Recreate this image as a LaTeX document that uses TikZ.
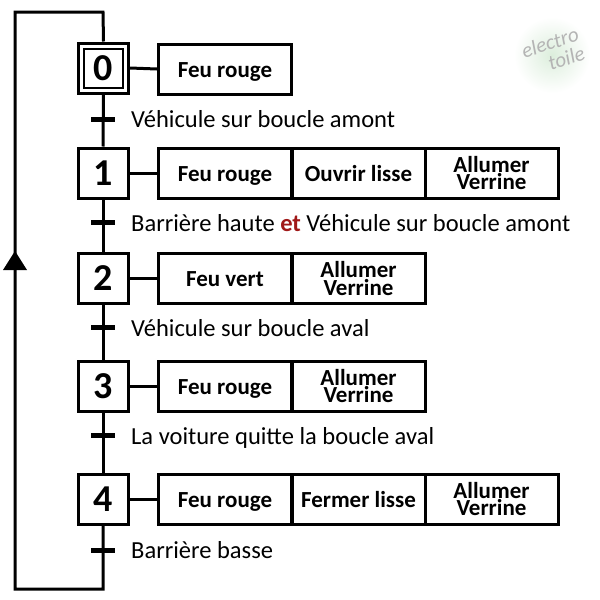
\documentclass[tikz,border=0pt]{standalone}
\usepackage{fontspec}
\setmainfont{Carlito}
\definecolor{etred}{HTML}{A01818}
\definecolor{logogray}{HTML}{B4B4B4}
\definecolor{glow}{HTML}{DCEEDC}
\begin{document}
\begin{tikzpicture}[x=1pt,y=-1pt,
  stepbox/.style={draw, line width=3pt, minimum width=50pt, minimum height=50pt, inner sep=0pt, font=\fontsize{38}{38}\selectfont\bfseries},
  actbox/.style={draw, line width=3pt, minimum width=133pt, minimum height=50pt, inner sep=0pt, align=center, font=\fontsize{23}{17.5}\selectfont\bfseries},
  oneline/.style={text height=16pt, text depth=0pt},
  link/.style={line width=3pt},
  trans/.style={line width=5pt},
  tlabel/.style={anchor=base west, inner sep=0pt, font=\fontsize{24.5}{24.5}\selectfont}]
\useasboundingbox[fill=white] (0,0) rectangle (600,600);
% logo
\shade[inner color=glow, outer color=white] (552,55) circle (38);
\node[rotate=18, text=logogray, align=right, font=\fontsize{21}{20}\selectfont\itshape, inner sep=0pt] (logo) at (553,52) {electro\\toile};
% steps
\node[stepbox, minimum width=50pt, minimum height=50pt] (s0) at (103.5,68) {};
\node[draw, line width=2pt, minimum width=39pt, minimum height=39pt, inner sep=0pt, font=\fontsize{38}{38}\selectfont\bfseries] (s0in) at (s0) {0};
\node[stepbox] (s1) at (103,173) {1};
\node[stepbox] (s2) at (103,278.5) {2};
\node[stepbox] (s3) at (103,386) {3};
\node[stepbox] (s4) at (103,499) {4};
% actions
\node[actbox, oneline] (a0) at (225,69) {Feu rouge};
\node[actbox, oneline] (a1a) at (225,173) {Feu rouge};
\node[actbox, oneline] (a1b) at (358.5,173) {Ouvrir lisse};
\node[actbox] (a1c) at (491.5,173) {Allumer\\Verrine};
\node[actbox, oneline] (a2a) at (225,278.5) {Feu vert};
\node[actbox] (a2b) at (358.5,278.5) {Allumer\\Verrine};
\node[actbox, oneline] (a3a) at (225,386) {Feu rouge};
\node[actbox] (a3b) at (358.5,386) {Allumer\\Verrine};
\node[actbox, oneline] (a4a) at (225,499) {Feu rouge};
\node[actbox, oneline] (a4b) at (358.5,499) {Fermer lisse};
\node[actbox] (a4c) at (491.5,499) {Allumer\\Verrine};
% step to action links
\foreach \s/\a in {s0/a0,s1/a1a,s2/a2a,s3/a3a,s4/a4a}
  \draw[link] (\s.east) -- (\a.west);
% vertical links
\draw[link] (s0.south) -- (s1.north);
\draw[link] (s1.south) -- (s2.north);
\draw[link] (s2.south) -- (s3.north);
\draw[link] (s3.south) -- (s4.north);
% loop back
\coordinate (lb) at (103,589);
\coordinate (lbl) at (15,589);
\coordinate (ltl) at (15,12);
\coordinate (lt) at (103,12);
\draw[link, line join=miter] (s4.south) -- (lb) -- (lbl) -- (ltl) -- (lt) -- (s0.north);
\coordinate (tip) at (15,251);
\fill (tip) -- ++(-12,19) -- ++(24,0) -- cycle;
% transitions
\foreach \y in {119,222,327,435,550}
  \draw[trans] (91,\y) -- (115,\y);
\node[tlabel] (t0) at (131,127.5) {Véhicule sur boucle amont};
\node[tlabel] (t1) at (131,231) {Barrière haute {\bfseries\color{etred}et} Véhicule sur boucle amont};
\node[tlabel] (t2) at (131,336) {Véhicule sur boucle aval};
\node[tlabel] (t3) at (131,444) {La voiture quitte la boucle aval};
\node[tlabel] (t4) at (131,558.5) {Barrière basse};
\end{tikzpicture}
\end{document}
